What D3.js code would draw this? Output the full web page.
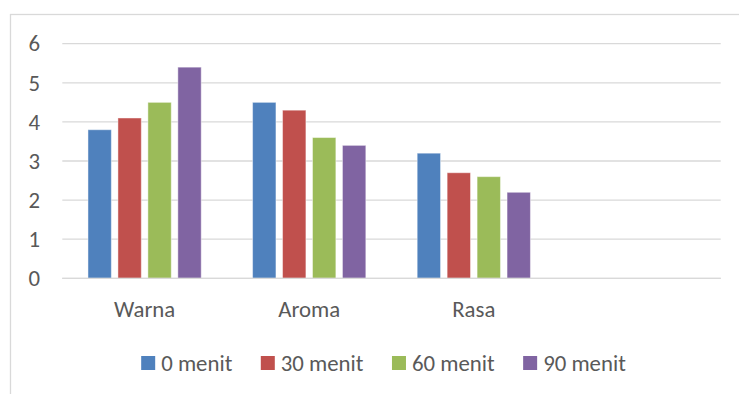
<!DOCTYPE html>
<html>
<head>
<meta charset="utf-8">
<script src="https://cdn.jsdelivr.net/npm/d3@7"></script>
<style>
  html, body { margin: 0; padding: 0; background: #fff; }
  svg { display: block; }
  text { font-family: Carlito, Calibri, Lato, sans-serif; fill: #595959; }
</style>
</head>
<body>
<svg id="chart" width="739" height="394"></svg>
<script>
const categories = ["Warna", "Aroma", "Rasa", ""];
const seriesNames = ["0 menit", "30 menit", "60 menit", "90 menit"];
const seriesColors = ["#4F81BD", "#C0504D", "#9BBB59", "#8064A2"];
const values0 = [3.8, 4.5, 3.2, null];
const values30 = [4.1, 4.3, 2.7, null];
const values60 = [4.5, 3.6, 2.6, null];
const values90 = [5.4, 3.4, 2.2, null];
const yTicks = [0, 1, 2, 3, 4, 5, 6];

const seriesValues = [values0, values30, values60, values90];

const svg = d3.select("#chart");
const W = 739, H = 394;
const plot = { left: 62.3, right: 720.7, top: 43.7, bottom: 278.3 };
const fontSize = 22.8;
const fontFam = "Carlito, Calibri, Lato, sans-serif";

// chart area border
svg.append("rect")
  .attr("x", 10.5).attr("y", 14.5)
  .attr("width", W + 10).attr("height", H + 10)
  .attr("fill", "none").attr("stroke", "#d9d9d9").attr("stroke-width", 1.3);

const x0 = d3.scaleBand()
  .domain(d3.range(categories.length))
  .range([plot.left, plot.right])
  .paddingInner(0).paddingOuter(0);

const bw = x0.bandwidth();
const groupStart = bw * 0.156, groupEnd = bw * 0.844;
const x1 = d3.scaleBand()
  .domain(d3.range(seriesNames.length))
  .range([groupStart, groupEnd])
  .paddingInner(0.22).paddingOuter(0);

const y = d3.scaleLinear().domain([0, 6]).range([plot.bottom, plot.top]);

// gridlines
svg.append("g").selectAll("line")
  .data(yTicks)
  .join("line")
  .attr("x1", plot.left).attr("x2", plot.right)
  .attr("y1", d => y(d)).attr("y2", d => y(d))
  .attr("stroke", "#d9d9d9").attr("stroke-width", 1.3);

// y labels
const yAxis = d3.axisLeft(y).tickValues(yTicks).tickFormat(d3.format("d")).tickSize(0).tickPadding(0);
const yg = svg.append("g").attr("transform", "translate(40,0)").call(yAxis);
yg.select(".domain").remove();
yg.selectAll("text")
  .attr("font-size", fontSize)
  .style("font-family", fontFam)
  .attr("fill", "#595959");

// bars
const groups = svg.append("g").selectAll("g")
  .data(categories.map((c, i) => i))
  .join("g")
  .attr("transform", i => `translate(${x0(i)},0)`);

groups.selectAll("rect")
  .data(i => seriesValues.map((vals, s) => ({ s, v: vals[i] })).filter(d => d.v != null))
  .join("rect")
  .attr("x", d => x1(d.s))
  .attr("width", x1.bandwidth())
  .attr("y", d => y(d.v))
  .attr("height", d => y(0) - y(d.v))
  .attr("fill", d => seriesColors[d.s])
  .attr("stroke", "rgba(255,255,255,0.45)")
  .attr("stroke-width", 1);

// category labels
const xAxis = d3.axisBottom(x0).tickFormat(i => categories[i]).tickSize(0).tickPadding(0);
const xg = svg.append("g").attr("transform", `translate(0,${plot.bottom})`).call(xAxis);
xg.select(".domain").remove();
xg.selectAll("text")
  .attr("y", 0).attr("dy", null)
  .attr("transform", "translate(0,39)")
  .attr("font-size", fontSize)
  .style("font-family", fontFam)
  .attr("fill", "#595959");

svg.append("line")
  .attr("x1", plot.left).attr("x2", plot.right)
  .attr("y1", y(0)).attr("y2", y(0))
  .attr("stroke", "#d9d9d9").attr("stroke-width", 1.3);

// legend
const legend = svg.append("g");
const sq = 14, sqGap = 6, itemGap = 28.5;
let cx = 0;
seriesNames.forEach((name, i) => {
  const g = legend.append("g");
  g.append("rect").attr("x", 0).attr("y", 356).attr("width", sq).attr("height", sq)
    .attr("fill", seriesColors[i]);
  const t = g.append("text").attr("x", sq + sqGap).attr("y", 370.5)
    .attr("font-size", fontSize).text(name);
  const w = t.node().getComputedTextLength();
  g.attr("transform", `translate(${cx},0)`);
  cx += sq + sqGap + w + itemGap;
});
const totalW = cx - itemGap;
legend.attr("transform", `translate(${383.5 - totalW / 2},0)`);
</script>
</body>
</html>
